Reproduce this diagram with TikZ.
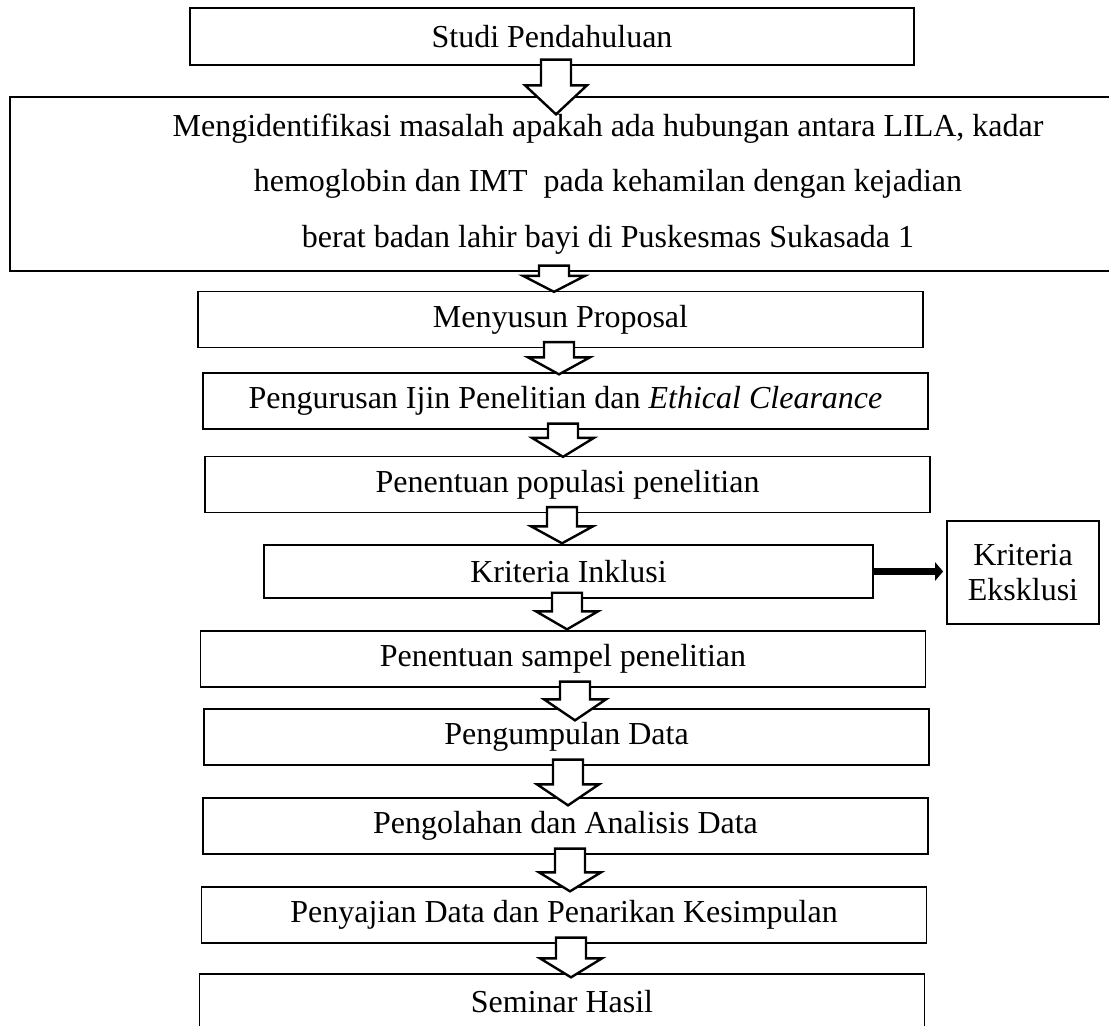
\documentclass[tikz,border=0pt]{standalone}
\usepackage{fontspec}
\setmainfont{Liberation Serif}
\usepackage{tikz}
\usetikzlibrary{arrows.meta,calc}

% hollow block arrow: source, target, x, tip depth into target, head length
\newcommand{\blockarrow}[5]{%
  \draw[blockarrow]
    ($(#3,0 |- #1.south)+(-15,-6)$) -- ($(#3,0 |- #1.south)+(15,-6)$)
    -- ($(#3,0 |- #2.north)+(15,#4-#5)$) -- ($(#3,0 |- #2.north)+(31,#4-#5)$)
    -- ($(#3,0 |- #2.north)+(0,#4)$)
    -- ($(#3,0 |- #2.north)+(-31,#4-#5)$) -- ($(#3,0 |- #2.north)+(-15,#4-#5)$)
    -- cycle;}

\begin{document}
\begin{tikzpicture}[
    x=0.375pt, y=-0.375pt,
    font=\fontsize{12}{20.8}\selectfont,
    stage/.style={draw, line width=0.5pt, minimum width=271.9pt, minimum height=21pt, inner sep=0pt},
    blockarrow/.style={draw, fill=white, line width=0.9pt},
    exclarrow/.style={-{Triangle[length=3pt,width=6.8pt]}, line width=2.9pt, shorten >=1.2pt}
]
    \useasboundingbox (0,0) rectangle (1109,1026);
    \clip (0,0) rectangle (1109,1026);

    % Stages
    \node[stage, minimum width=271.5pt, minimum height=21.4pt] (studi) at (552,36.5) {Studi Pendahuluan};
    \node[stage, minimum width=448.5pt, minimum height=65.25pt, align=center] (identifikasi) at (608,184)
        {Mengidentifikasi masalah apakah ada hubungan antara LILA, kadar\\hemoglobin dan IMT\ \ pada kehamilan dengan kejadian\\berat badan lahir bayi di Puskesmas Sukasada 1};
    \node[stage] (proposal) at (560.5,319.5) {Menyusun Proposal};
    \node[stage] (ijin) at (565.5,401) {Pengurusan Ijin Penelitian dan \textit{Ethical Clearance}};
    \node[stage] (populasi) at (567.5,484.5) {Penentuan populasi penelitian};
    \node[stage, minimum width=228.4pt, minimum height=19.9pt] (inklusi) at (568.5,571.5) {Kriteria Inklusi};
    \node[stage, minimum width=57pt, minimum height=38.6pt, align=center, font=\fontsize{12}{13.1}\selectfont] (eksklusi) at (1023,572.5) {Kriteria\\Eksklusi};
    \node[stage] (sampel) at (563,659) {Penentuan sampel penelitian};
    \node[stage] (kumpul) at (566.5,737) {Pengumpulan Data};
    \node[stage] (olah) at (565.5,826) {Pengolahan dan Analisis Data};
    \node[stage] (saji) at (564,915) {Penyajian Data dan Penarikan Kesimpulan};
    \node[stage] (seminar) at (562,1002) {Seminar Hasil};

    % Flow
    \blockarrow{studi}{identifikasi}{556}{18}{29}
    \blockarrow{identifikasi}{proposal}{554}{1}{16}
    \blockarrow{proposal}{ijin}{559}{2}{17}
    \blockarrow{ijin}{populasi}{563}{1}{19}
    \blockarrow{populasi}{inklusi}{562}{-1}{17}
    \blockarrow{inklusi}{sampel}{567}{-1}{18}
    \blockarrow{sampel}{kumpul}{575}{12}{21}
    \blockarrow{kumpul}{olah}{568}{8}{21}
    \blockarrow{olah}{saji}{570}{5}{19}
    \blockarrow{saji}{seminar}{571}{4}{19}

    % Exclusion
    \draw[exclarrow] (inklusi.east) -- (inklusi.east -| eksklusi.west);
\end{tikzpicture}
\end{document}
